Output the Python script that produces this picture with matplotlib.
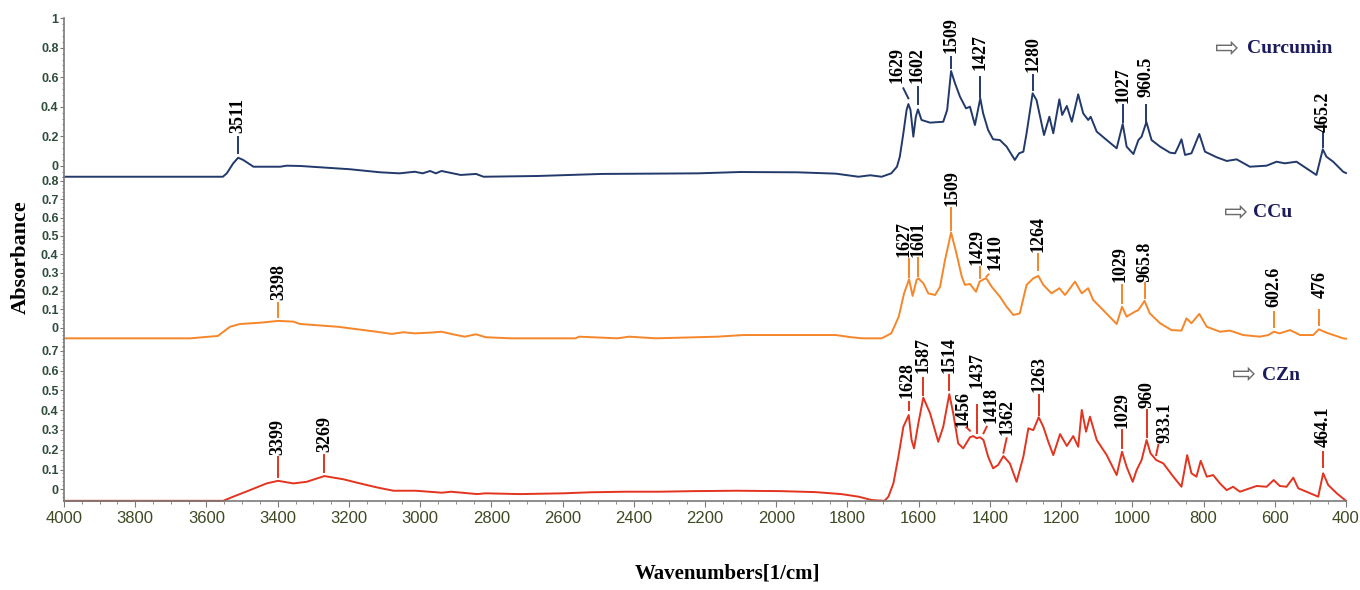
import matplotlib.pyplot as plt
from matplotlib.ticker import MultipleLocator, FormatStrFormatter, FuncFormatter

plt.rcParams["font.family"] = ["Liberation Sans", "DejaVu Sans"]

# ── FTIR spectra: wavenumber (1/cm) vs absorbance ─────────────────────────────
CUR_WN = [4000, 3554, 3543, 3525, 3511, 3497, 3468, 3393, 3375, 3337,
          3198, 3112, 3058, 3015, 2993, 2972, 2956, 2940, 2886, 2843,
          2822, 2671, 2489, 2220, 2102, 1940, 1833, 1769, 1736, 1704,
          1677, 1661, 1653, 1643, 1634, 1629, 1623, 1615, 1608, 1602,
          1592, 1568, 1531, 1520, 1509, 1498, 1484, 1467, 1456, 1442,
          1427, 1419, 1405, 1391, 1372, 1353, 1330, 1318, 1306, 1297,
          1280, 1269, 1255, 1248, 1233, 1222, 1205, 1197, 1184, 1170,
          1152, 1138, 1124, 1117, 1100, 1072, 1044, 1027, 1016, 997,
          983, 974, 960.5, 946, 922, 894, 880, 871, 862, 852,
          834, 812, 796, 763, 735, 707, 670, 623, 595, 572,
          539, 511, 483, 465.2, 455, 436, 408, 400]
CUR_ABS = [-0.075, -0.075, -0.052, 0.016, 0.054, 0.039, -0.007, -0.007, 0.0, -0.002,
           -0.024, -0.045, -0.052, -0.041, -0.052, -0.036, -0.052, -0.036, -0.063, -0.056,
           -0.075, -0.070, -0.056, -0.052, -0.043, -0.045, -0.054, -0.075, -0.065, -0.075,
           -0.052, -0.007, 0.061, 0.220, 0.378, 0.418, 0.378, 0.197, 0.332, 0.382,
           0.310, 0.292, 0.298, 0.378, 0.642, 0.559, 0.468, 0.389, 0.400, 0.276,
           0.457, 0.355, 0.242, 0.179, 0.174, 0.129, 0.039, 0.084, 0.095, 0.220,
           0.491, 0.445, 0.287, 0.208, 0.332, 0.220, 0.450, 0.344, 0.405, 0.298,
           0.484, 0.355, 0.310, 0.332, 0.231, 0.174, 0.118, 0.283, 0.129, 0.079,
           0.174, 0.197, 0.296, 0.174, 0.129, 0.088, 0.084, 0.129, 0.179, 0.073,
           0.084, 0.215, 0.095, 0.057, 0.032, 0.043, -0.007, 0.0, 0.027, 0.016,
           0.027, -0.018, -0.063, 0.111, 0.061, 0.027, -0.041, -0.050]

CCU_WN = [4000, 3646, 3568, 3534, 3506, 3450, 3398, 3356, 3337, 3231,
          3123, 3080, 3047, 3015, 2972, 2940, 2908, 2875, 2843, 2816,
          2746, 2564, 2553, 2446, 2413, 2338, 2166, 2091, 1833, 1790,
          1758, 1704, 1677, 1656, 1641, 1627, 1617, 1606, 1601, 1587,
          1573, 1554, 1540, 1526, 1509, 1494, 1479, 1470, 1456, 1439,
          1429, 1417, 1410, 1395, 1372, 1353, 1334, 1316, 1297, 1278,
          1264, 1250, 1227, 1205, 1189, 1161, 1142, 1124, 1110, 1082,
          1044, 1029, 1016, 993, 983, 965.8, 951, 922, 890, 862,
          848, 834, 812, 791, 754, 726, 689, 642, 618, 602.6,
          586, 557, 529, 492, 476, 455, 408, 400]
CCU_ABS = [-0.058, -0.058, -0.045, 0.005, 0.020, 0.027, 0.037, 0.033, 0.020, 0.005,
           -0.022, -0.034, -0.025, -0.031, -0.027, -0.022, -0.036, -0.049, -0.036, -0.052,
           -0.058, -0.058, -0.049, -0.058, -0.049, -0.058, -0.049, -0.040, -0.040, -0.052,
           -0.058, -0.058, -0.031, 0.060, 0.187, 0.264, 0.173, 0.260, 0.269, 0.242,
           0.187, 0.178, 0.223, 0.369, 0.518, 0.405, 0.278, 0.233, 0.238, 0.196,
           0.251, 0.264, 0.269, 0.223, 0.169, 0.114, 0.069, 0.078, 0.233, 0.269,
           0.282, 0.233, 0.187, 0.215, 0.178, 0.251, 0.187, 0.215, 0.151, 0.096,
           0.020, 0.114, 0.060, 0.087, 0.096, 0.146, 0.078, 0.024, -0.013, -0.016,
           0.051, 0.024, 0.075, 0.005, -0.022, -0.016, -0.040, -0.049, -0.040, -0.022,
           -0.031, -0.013, -0.040, -0.040, -0.009, -0.027, -0.058, -0.060]

CZN_WN = [4000, 3553, 3525, 3478, 3431, 3399, 3356, 3319, 3269, 3216,
          3169, 3122, 3075, 3012, 2939, 2913, 2840, 2816, 2720, 2597,
          2524, 2426, 2329, 2232, 2110, 1988, 1890, 1817, 1769, 1732,
          1696, 1685, 1671, 1657, 1643, 1628, 1620, 1613, 1601, 1587,
          1568, 1545, 1531, 1514, 1503, 1489, 1475, 1456, 1447, 1437,
          1428, 1418, 1405, 1391, 1377, 1362, 1344, 1325, 1306, 1292,
          1278, 1263, 1250, 1236, 1222, 1203, 1184, 1166, 1152, 1142,
          1130, 1119, 1100, 1072, 1044, 1029, 1016, 999, 988, 974,
          960, 949, 933.1, 913, 885, 862, 846, 834, 820, 808,
          791, 773, 754, 735, 717, 698, 651, 623, 603, 586,
          567, 548, 534, 511, 478, 464.1, 450, 426, 400]
CZN_ABS = [-0.058, -0.058, -0.037, -0.004, 0.030, 0.043, 0.030, 0.038, 0.067, 0.051,
           0.030, 0.010, -0.007, -0.007, -0.017, -0.012, -0.024, -0.020, -0.024, -0.020,
           -0.015, -0.012, -0.012, -0.009, -0.007, -0.009, -0.014, -0.024, -0.037, -0.054,
           -0.058, -0.037, 0.030, 0.165, 0.316, 0.375, 0.249, 0.207, 0.333, 0.463,
           0.384, 0.240, 0.316, 0.481, 0.384, 0.232, 0.207, 0.263, 0.269, 0.258,
           0.263, 0.249, 0.165, 0.106, 0.123, 0.168, 0.131, 0.038, 0.165, 0.308,
           0.299, 0.364, 0.316, 0.240, 0.173, 0.279, 0.219, 0.269, 0.215, 0.401,
           0.291, 0.367, 0.249, 0.173, 0.072, 0.190, 0.114, 0.038, 0.097, 0.148,
           0.249, 0.182, 0.148, 0.131, 0.064, 0.013, 0.173, 0.081, 0.064, 0.144,
           0.064, 0.072, 0.030, -0.004, 0.013, -0.012, 0.017, 0.013, 0.047, 0.017,
           0.013, 0.059, 0.005, -0.012, -0.037, 0.081, 0.022, -0.020, -0.058]

# peak labels per sample
CUR_PEAKS = ["3511", "1629", "1602", "1509", "1427", "1280", "1027", "960.5", "465.2"]
CCU_PEAKS = ["3398", "1627", "1601", "1509", "1429", "1410", "1264", "1029", "965.8",
             "602.6", "476"]
CZN_PEAKS = ["3399", "3269", "1628", "1587", "1514", "1456", "1437", "1418", "1362",
             "1263", "1029", "960", "933.1", "464.1"]

# label placement: (text dx, text y, tick top y, tick bottom y, tick top dx)
CUR_TAGS = [(0, 0.222, 0.195, 0.086, 0), (33, 0.559, 0.525, 0.457, 14),
            (4, 0.561, 0.534, 0.418, 0), (0, 0.764, 0.739, 0.660, 0),
            (0, 0.649, 0.601, 0.468, 0), (0, 0.635, 0.615, 0.513, 0),
            (0, 0.423, 0.412, 0.298, 0), (0, 0.468, 0.412, 0.298, 0),
            (0, 0.228, 0.222, 0.127, 0)]
CCU_TAGS = [(0, 0.151, 0.133, 0.060, 0), (15, 0.387, 0.373, 0.275, 0),
            (1, 0.387, 0.378, 0.282, 0), (-3, 0.663, 0.652, 0.532, 0),
            (8, 0.342, 0.332, 0.269, 0), (-24, 0.314, 0.290, 0.278, -6),
            (0, 0.414, 0.402, 0.314, 0), (6, 0.251, 0.233, 0.133, 0),
            (0, 0.251, 0.242, 0.160, 0), (0, 0.114, 0.087, 0.005, 0),
            (-3, 0.160, 0.096, 0.015, 0)]
CZN_TAGS = [(0, 0.173, 0.165, 0.064, 0), (0, 0.190, 0.173, 0.089, 0),
            (6, 0.460, 0.442, 0.401, 0), (0, 0.586, 0.561, 0.476, 0),
            (0, 0.586, 0.577, 0.502, 0), (19, 0.316, 0.313, 0.296, 10),
            (0, 0.510, 0.426, 0.283, 0), (-21, 0.333, 0.316, 0.283, -9),
            (-9, 0.274, 0.258, 0.185, -9), (0, 0.493, 0.476, 0.375, 0),
            (0, 0.308, 0.299, 0.207, 0), (0, 0.409, 0.401, 0.266, 0),
            (-25, 0.232, 0.224, 0.173, -6), (0, 0.215, 0.190, 0.114, 0)]

NAVY, ORANGE, RED = "#22396b", "#f5862a", "#e2341f"
TICK_TXT = "#2f4d3c"
SERIF = "Liberation Serif"


def style_axis(ax, ylim, yticks, minor, show_x=False):
    ax.set_xlim(4000, 400)
    ax.set_ylim(*ylim)
    for side in ("top", "right"):
        ax.spines[side].set_visible(False)
    ax.spines["bottom"].set_visible(show_x)
    ax.spines["left"].set_color("#7a7a7a")
    ax.spines["left"].set_linewidth(1.2)
    ax.set_yticks(yticks)
    ax.yaxis.set_minor_locator(MultipleLocator(minor))
    ax.yaxis.set_major_formatter(FuncFormatter(lambda v, p: f"{v:g}"))
    ax.tick_params(axis="y", which="major", length=3, color="#7a7a7a",
                   labelsize=9, labelcolor=TICK_TXT, pad=1)
    ax.tick_params(axis="y", which="minor", length=1.8, color="#7a7a7a")
    for lab in ax.get_yticklabels():
        lab.set_fontweight("bold")
    if show_x:
        ax.spines["bottom"].set_color("#7a7a7a")
        ax.spines["bottom"].set_linewidth(1.2)
        ax.xaxis.set_major_locator(MultipleLocator(200))
        ax.xaxis.set_minor_locator(MultipleLocator(50))
        ax.xaxis.set_major_formatter(FormatStrFormatter("%d"))
        ax.tick_params(axis="x", which="major", length=4, color="#7a7a7a",
                       labelsize=12, labelcolor="#3d4a22", pad=3)
        ax.tick_params(axis="x", which="minor", length=2.5, color="#7a7a7a")
    else:
        ax.set_xticks([])


def tag_peaks(ax, labels, tags, color):
    for text, (dx, y_txt, y_top, y_bot, dx_top) in zip(labels, tags):
        wn = float(text)
        ax.plot([wn + dx_top, wn], [y_top, y_bot], color=color, lw=1.4,
                clip_on=False)
        ax.text(wn + dx, y_txt, text, rotation=90, ha="center", va="bottom",
                fontsize=13, fontweight="bold", family=SERIF, color="black",
                clip_on=False)


fig = plt.figure(figsize=(13.6, 5.9), dpi=100)
ax_top = fig.add_axes([0.0471, 0.6992, 0.9426, 0.2698])
ax_mid = fig.add_axes([0.0471, 0.4135, 0.9426, 0.2862])
ax_bot = fig.add_axes([0.0471, 0.1508, 0.9426, 0.2615])
for ax in (ax_top, ax_mid, ax_bot):
    ax.patch.set_alpha(0)

ax_top.plot(CUR_WN, CUR_ABS, color=NAVY, lw=1.4, clip_on=False)
ax_mid.plot(CCU_WN, CCU_ABS, color=ORANGE, lw=1.4, clip_on=False)
ax_bot.plot(CZN_WN, CZN_ABS, color=RED, lw=1.4, clip_on=False)

style_axis(ax_top, (-0.08, 1.0), [0, 0.2, 0.4, 0.6, 0.8, 1.0], 0.04)
style_axis(ax_mid, (-0.10, 0.82), [0, 0.1, 0.2, 0.3, 0.4, 0.5, 0.6, 0.7, 0.8], 0.02)
style_axis(ax_bot, (-0.059, 0.72), [0, 0.1, 0.2, 0.3, 0.4, 0.5, 0.6, 0.7], 0.02,
           show_x=True)

tag_peaks(ax_top, CUR_PEAKS, CUR_TAGS, NAVY)
tag_peaks(ax_mid, CCU_PEAKS, CCU_TAGS, ORANGE)
tag_peaks(ax_bot, CZN_PEAKS, CZN_TAGS, RED)

# sample names with hollow arrows
for name, xa, xt, y in [("Curcumin", 0.9022, 0.9167, 0.9170),
                        ("CCu", 0.9088, 0.9215, 0.6400),
                        ("CZn", 0.9152, 0.9277, 0.3638)]:
    fig.text(xa, y, "\u21e8", ha="center", va="center", fontsize=21,
             family="DejaVu Sans", color="#6b6b6b")
    fig.text(xt, y, name, ha="left", va="center", fontsize=14,
             fontweight="bold", family=SERIF, color="#1c1c5c")

fig.text(0.0155, 0.5644, "Absorbance", rotation=90, ha="center", va="center",
         fontsize=16, fontweight="bold", family=SERIF)
fig.text(0.535, 0.0288, "Wavenumbers[1/cm]", ha="center", va="center",
         fontsize=15, fontweight="bold", family=SERIF)

fig.savefig("out.png", dpi=100)
